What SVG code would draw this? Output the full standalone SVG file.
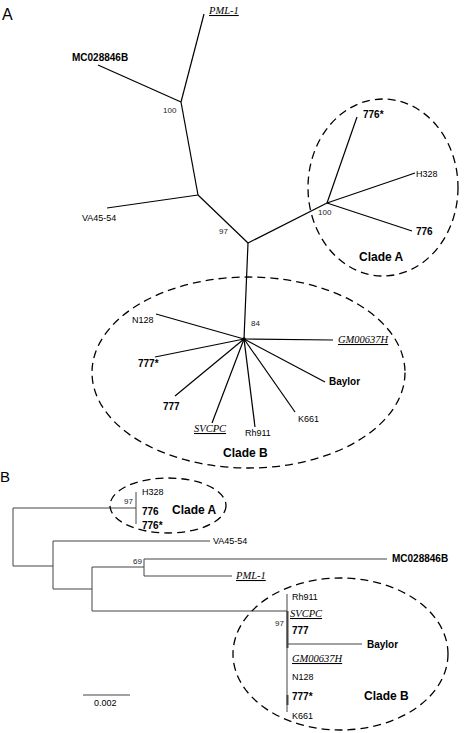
<svg xmlns="http://www.w3.org/2000/svg" width="468" height="733" viewBox="0 0 468 733">
<style>
text{font-family:"Liberation Sans",Arial,sans-serif;fill:#000}
.lbl{font-size:9px}
.b{font-size:10px;font-weight:bold}
.it{font-family:"Liberation Serif","Times New Roman",serif;font-style:italic;font-size:10.5px;text-decoration:underline}
.bs{font-size:8px;fill:#222}
.clade{font-size:12px;font-weight:bold}
.panel{font-size:16px}
.ea{stroke:#000;stroke-width:1.2;fill:none}
.eb{stroke:#444;stroke-width:1;fill:none}
.dash{stroke:#000;stroke-width:1.3;fill:none;stroke-dasharray:8 5}
</style>
<rect width="468" height="733" fill="#fff"/>
<g id="connectors">
  <g class="ea">
    <line x1="204" y1="14" x2="181" y2="102"/>
    <line x1="98" y1="65" x2="181" y2="102"/>
    <line x1="181" y1="102" x2="198" y2="195"/>
    <line x1="107" y1="208" x2="198" y2="195"/>
    <line x1="198" y1="195" x2="248" y2="243"/>
    <line x1="248" y1="243" x2="327" y2="203"/>
    <line x1="327" y1="203" x2="357" y2="117"/>
    <line x1="327" y1="203" x2="415" y2="173"/>
    <line x1="327" y1="203" x2="412" y2="231"/>
    <line x1="248" y1="243" x2="244" y2="339"/>
    <line x1="156" y1="314" x2="244" y2="339"/>
    <line x1="333" y1="340" x2="244" y2="339"/>
    <line x1="155" y1="357" x2="244" y2="339"/>
    <line x1="175" y1="396" x2="244" y2="339"/>
    <line x1="212" y1="423" x2="244" y2="339"/>
    <line x1="255" y1="427" x2="244" y2="339"/>
    <line x1="295" y1="412" x2="244" y2="339"/>
    <line x1="325" y1="382" x2="244" y2="339"/>
  </g>
  <circle cx="244" cy="339" r="1.8" fill="#000"/>
  <g class="eb">
    <line x1="13" y1="508" x2="13" y2="566"/>
    <line x1="13" y1="508" x2="136" y2="508"/>
    <line x1="136" y1="492" x2="136" y2="524"/>
    <line x1="13" y1="566" x2="53" y2="566"/>
    <line x1="53" y1="541" x2="53" y2="589"/>
    <line x1="53" y1="541" x2="210" y2="541"/>
    <line x1="53" y1="589" x2="92" y2="589"/>
    <line x1="92" y1="567" x2="92" y2="611"/>
    <line x1="92" y1="567" x2="144" y2="567"/>
    <line x1="144" y1="559" x2="144" y2="576"/>
    <line x1="144" y1="559" x2="387" y2="559"/>
    <line x1="144" y1="576" x2="232" y2="576"/>
    <line x1="92" y1="611" x2="287" y2="611"/>
    <line x1="287" y1="594" x2="287" y2="712"/>
    <line x1="287.5" y1="611" x2="287.5" y2="648" stroke-width="2"/>
    <line x1="287.5" y1="695" x2="287.5" y2="705" stroke-width="2"/>
    <line x1="287" y1="644" x2="362" y2="644"/>
    <line x1="83" y1="695" x2="130" y2="695"/>
  </g>
</g>
<g id="ellipses">
  <ellipse class="dash" cx="383" cy="187.5" rx="75" ry="88.5"/>
  <ellipse class="dash" cx="248.5" cy="372.5" rx="156.5" ry="95.5"/>
  <ellipse class="dash" cx="168" cy="505.5" rx="58" ry="27.5"/>
  <ellipse class="dash" cx="340.5" cy="654" rx="107.5" ry="76"/>
</g>
<g id="panel-a">
  <text class="panel" x="2" y="20">A</text>
  <g id="a-pml1"><text class="it" x="209" y="14">PML-1</text></g>
  <g id="a-mc028846b"><text class="b" x="72" y="61">MC028846B</text></g>
  <g id="a-va4554"><text class="lbl" x="82" y="221">VA45-54</text></g>
  <g id="a-776s"><text class="b" x="363" y="118">776*</text></g>
  <g id="a-h328"><text class="lbl" x="416" y="177">H328</text></g>
  <g id="a-776"><text class="b" x="416" y="235">776</text></g>
  <g id="a-n128"><text class="lbl" x="132" y="323">N128</text></g>
  <g id="a-gm"><text class="it" x="338" y="343">GM00637H</text></g>
  <g id="a-777s"><text class="b" x="138" y="367">777*</text></g>
  <g id="a-777"><text class="b" x="163" y="410">777</text></g>
  <g id="a-svcpc"><text class="it" x="194" y="432">SVCPC</text></g>
  <g id="a-rh911"><text class="lbl" x="245" y="436">Rh911</text></g>
  <g id="a-k661"><text class="lbl" x="298" y="422">K661</text></g>
  <g id="a-baylor"><text class="b" x="329" y="385">Baylor</text></g>
  <g id="a-bs"><text class="bs" x="163" y="113">100</text><text class="bs" x="219" y="234">97</text><text class="bs" x="318" y="215">100</text><text class="bs" x="251" y="326">84</text></g>
  <g id="a-cladea"><text class="clade" x="359" y="261">Clade A</text></g>
  <g id="a-cladeb"><text class="clade" x="223" y="457">Clade B</text></g>
</g>
<g id="panel-b">
  <text class="panel" x="0" y="482" style="font-size:15px">B</text>
  <g id="b-h328"><text class="lbl" x="142" y="495">H328</text></g>
  <g id="b-776"><text class="b" x="142" y="515">776</text></g>
  <g id="b-776s"><text class="b" x="142" y="529">776*</text></g>
  <g id="b-cladea"><text class="clade" x="172" y="514">Clade A</text></g>
  <g id="b-va4554"><text class="lbl" x="213" y="544">VA45-54</text></g>
  <g id="b-mc"><text class="b" x="392" y="562">MC028846B</text></g>
  <g id="b-pml1"><text class="it" x="236" y="579">PML-1</text></g>
  <g id="b-rh911"><text class="lbl" x="292" y="600">Rh911</text></g>
  <g id="b-svcpc"><text class="it" x="290" y="617">SVCPC</text></g>
  <g id="b-777"><text class="b" x="292" y="634">777</text></g>
  <g id="b-baylor"><text class="b" x="367" y="648">Baylor</text></g>
  <g id="b-gm"><text class="it" x="292" y="662">GM00637H</text></g>
  <g id="b-n128"><text class="lbl" x="292" y="680">N128</text></g>
  <g id="b-777s"><text class="b" x="292" y="700">777*</text></g>
  <g id="b-k661"><text class="lbl" x="292" y="719">K661</text></g>
  <g id="b-cladeb"><text class="clade" x="364" y="700">Clade B</text></g>
  <g id="b-bs"><text class="bs" x="124" y="504">97</text><text class="bs" x="133" y="564">69</text><text class="bs" x="275" y="626">97</text></g>
  <g id="b-scale"><text class="lbl" x="94" y="706">0.002</text></g>
</g>
</svg>
